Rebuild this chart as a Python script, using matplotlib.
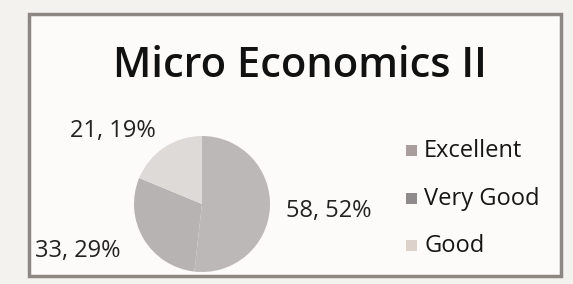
import matplotlib
matplotlib.use("Agg")
import matplotlib.pyplot as plt
from matplotlib.patches import Rectangle
import numpy as np

# chart data
categories = ["Excellent", "Very Good", "Good"]
counts = [58, 33, 21]
percents = [52, 29, 19]
title = "Micro Economics II"

slice_colors = ["#bcb8b7", "#b7b3b3", "#dedad7"]
legend_colors = ["#a99d9e", "#8f8a8b", "#dcd2cb"]

W, H = 573, 284
fig = plt.figure(figsize=(W / 100, H / 100), dpi=100)
fig.patch.set_facecolor("#f4f2ef")
plt.rcParams["font.family"] = ["Open Sans", "DejaVu Sans"]

# scanned page frame
frame = Rectangle((29 / W, 1 - 276 / H), (561 - 29) / W, (276 - 14) / H,
                  transform=fig.transFigure, facecolor="#fcfbfa",
                  edgecolor="#8c8783", linewidth=2.5, zorder=-5)
fig.patches.append(frame)

fig.text(300 / W, 1 - 66 / H, title, ha="center", va="center",
         fontsize=30, fontweight="semibold", color="#111111")

# pie axes: center (202, 204) px, radius 68 px
cx, cy, r = 202, 204, 68
ax = fig.add_axes([(cx - r) / W, (H - cy - r) / H, 2 * r / W, 2 * r / H])
wedges, _ = ax.pie(counts, colors=slice_colors, startangle=90,
                   counterclock=False, radius=1.0,
                   wedgeprops=dict(linewidth=0))
ax.set_xlim(-1, 1)
ax.set_ylim(-1, 1)
ax.set_aspect("equal")
ax.axis("off")

# label placement (distance in radii, angle shift in degrees)
label_dist = [1.87, 1.95, 1.7]
label_shift = [0, -10, 17]
for w, n, p, d, s in zip(wedges, counts, percents, label_dist, label_shift):
    mid = np.deg2rad((w.theta1 + w.theta2) / 2 + s)
    ax.text(d * np.cos(mid), d * np.sin(mid), f"{n}, {p}%",
            ha="center", va="center", fontsize=17, color="#222222")

# legend
leg_y = [151, 199, 246]
for name, c, y in zip(categories, legend_colors, leg_y):
    fig.patches.append(Rectangle((406 / W, 1 - (y + 5) / H), 11 / W, 11 / H,
                                 transform=fig.transFigure, facecolor=c,
                                 edgecolor="none"))
    fig.text(424 / W, 1 - y / H, name, ha="left", va="center",
             fontsize=17, color="#161616")

fig.savefig("out.png", dpi=100, facecolor=fig.get_facecolor())
